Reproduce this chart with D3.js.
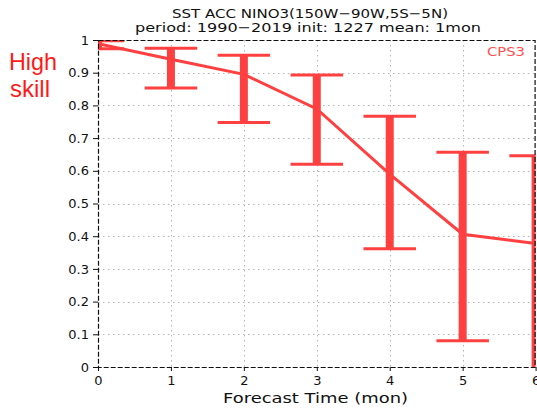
<!DOCTYPE html>
<html><head><meta charset="utf-8">
<script src="https://cdn.jsdelivr.net/npm/d3@7"></script>
<style>html,body{margin:0;padding:0;background:#fff;overflow:hidden}</style>
</head><body>
<svg id="c" width="537" height="412"></svg>
<script>
const months = [0, 1, 2, 3, 4, 5, 6];
const acc = [0.989, 0.941, 0.895, 0.789, 0.590, 0.406, 0.378];
const upper = [0.998, 0.975, 0.953, 0.893, 0.767, 0.657, 0.646];
const lower = [0.973, 0.853, 0.748, 0.620, 0.362, 0.080, -0.05];
const yTicks = [0, 0.1, 0.2, 0.3, 0.4, 0.5, 0.6, 0.7, 0.8, 0.9, 1];
const xTicks = [0, 1, 2, 3, 4, 5, 6];
const titleText = "SST ACC NINO3(150W\u221290W,5S\u22125N)";
const subtitleText = "period: 1990\u22122019 init: 1227 mean: 1mon";
const xLabel = "Forecast Time (mon)";
const seriesName = "CPS3";

const svg = d3.select("#c");
const L = 98, R = 535.6, T = 40, B = 367;
const x = d3.scaleLinear().domain([0, 6]).range([L, R]);
const y = d3.scaleLinear().domain([0, 1]).range([B, T]);
const red = "#ff4040";
const font = "DejaVu Sans, sans-serif";

svg.append("defs").append("clipPath").attr("id", "clip")
  .append("rect").attr("x", L).attr("y", T).attr("width", R - L).attr("height", B - T);

// grid
const grid = svg.append("g").attr("stroke", "#b4b4b4").attr("stroke-width", 1).attr("stroke-dasharray", "1.5,3.5");
grid.selectAll(".gy").data(yTicks.slice(1, -1)).join("line")
  .attr("x1", L).attr("x2", R).attr("y1", d => Math.round(y(d)) + 0.5).attr("y2", d => Math.round(y(d)) + 0.5);
grid.selectAll(".gx").data(xTicks.slice(1, -1)).join("line")
  .attr("y1", T).attr("y2", B).attr("x1", d => Math.round(x(d)) + 0.5).attr("x2", d => Math.round(x(d)) + 0.5);

// axes
const yAxis = d3.axisLeft(y).tickValues(yTicks).tickSize(5).tickPadding(4).tickFormat(d3.format("~g"));
const gy = svg.append("g").attr("transform", `translate(${L},0)`).call(yAxis);
const xAxis = d3.axisBottom(x).tickValues(xTicks).tickSize(4).tickPadding(5).tickFormat(d3.format("d"));
const gx = svg.append("g").attr("transform", `translate(0,${B})`).call(xAxis);
[gy, gx].forEach(g => {
  g.select(".domain").remove();
  g.selectAll("line").attr("stroke", "#111");
  g.selectAll("text").attr("font-family", font).attr("font-size", 13).attr("fill", "#111");
});

// data marks (clipped)
const plot = svg.append("g").attr("clip-path", "url(#clip)");
const idx = d3.range(months.length);
plot.selectAll(".bar").data(idx).join("line")
  .attr("x1", i => x(months[i])).attr("x2", i => x(months[i]))
  .attr("y1", i => y(upper[i])).attr("y2", i => y(lower[i]))
  .attr("stroke", red).attr("stroke-width", 8);
const capW = x(0.36) - x(0);
plot.selectAll(".capU").data(idx).join("line")
  .attr("x1", i => x(months[i]) - capW).attr("x2", i => x(months[i]) + capW)
  .attr("y1", i => y(upper[i])).attr("y2", i => y(upper[i]))
  .attr("stroke", red).attr("stroke-width", 3);
plot.selectAll(".capL").data(idx).join("line")
  .attr("x1", i => x(months[i]) - capW).attr("x2", i => x(months[i]) + capW)
  .attr("y1", i => y(lower[i])).attr("y2", i => y(lower[i]))
  .attr("stroke", red).attr("stroke-width", 3);
const line = d3.line().x((d, i) => x(months[i])).y(d => y(d));
plot.append("path").datum(acc).attr("d", line).attr("fill", "none")
  .attr("stroke", red).attr("stroke-width", 3);

// frame
svg.append("rect").attr("x", L + 0.5).attr("y", T + 0.5).attr("width", R - L - 1).attr("height", B - T)
  .attr("fill", "none").attr("stroke", "#111").attr("stroke-width", 1.2).attr("stroke-dasharray", "5,2");

// texts
svg.append("text").attr("x", 310).attr("y", 17.5).attr("text-anchor", "middle")
  .attr("font-family", font).attr("font-size", 13).attr("fill", "#111")
  .attr("textLength", 276).attr("lengthAdjust", "spacingAndGlyphs").text(titleText);
svg.append("text").attr("x", 308).attr("y", 32).attr("text-anchor", "middle")
  .attr("font-family", font).attr("font-size", 13).attr("fill", "#111")
  .attr("textLength", 346).attr("lengthAdjust", "spacingAndGlyphs").text(subtitleText);
svg.append("text").attr("x", 315.5).attr("y", 403).attr("text-anchor", "middle")
  .attr("font-family", font).attr("font-size", 13.5).attr("fill", "#111")
  .attr("textLength", 185).attr("lengthAdjust", "spacingAndGlyphs").text(xLabel);
svg.append("text").attr("x", 525).attr("y", 56).attr("text-anchor", "end")
  .attr("font-family", font).attr("font-size", 12.5).attr("fill", "#ff5050")
  .attr("textLength", 38).attr("lengthAdjust", "spacingAndGlyphs").text(seriesName);
svg.append("text").attr("x", 9).attr("y", 69.5)
  .attr("font-family", "Liberation Sans, Arial, sans-serif").attr("font-size", 24).attr("fill", "#ff1a1a")
  .attr("textLength", 48).attr("lengthAdjust", "spacingAndGlyphs").text("High");
svg.append("text").attr("x", 10).attr("y", 97)
  .attr("font-family", "Liberation Sans, Arial, sans-serif").attr("font-size", 24).attr("fill", "#ff1a1a")
  .text("skill");
</script>
</body></html>
